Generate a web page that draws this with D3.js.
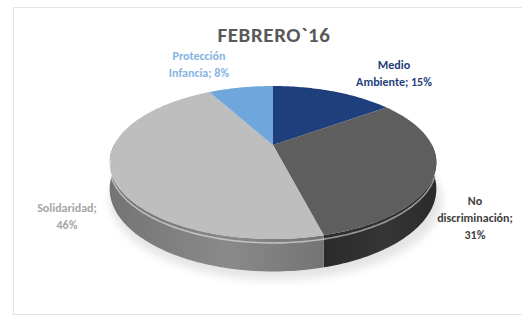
<!DOCTYPE html>
<html>
<head>
<meta charset="utf-8">
<script src="https://cdn.jsdelivr.net/npm/d3@7"></script>
<style>
  html, body { margin: 0; padding: 0; background: #fff; }
  svg { display: block; }
</style>
</head>
<body>
<div id="chart"></div>
<script>
// datos del gráfico
const categories = ['Medio Ambiente', 'No discriminación', 'Solidaridad', 'Protección Infancia']
const values = [15, 31, 46, 8]
const labelLines = [
  ['Medio', 'Ambiente; 15%'],
  ['No', 'discriminación;', '31%'],
  ['Solidaridad;', '46%'],
  ['Protección', 'Infancia; 8%']
]
const title = 'FEBRERO`16'

const width = 522
const height = 318

// colores de la cara superior y del lateral
const topColors = ['#1f3e7c', '#5e5e5e', '#bebebe', '#6fa7dd']
const sideColors = [['#142a57', '#1f3e7c'], ['#2a2a2a', '#363636'], ['#747474', '#8a8a8a'], ['#4a7db0', '#6fa7dd']]
const labelColors = ['#1f3e7c', '#404040', '#a6a6a6', '#86b3e2']
// posición del centro de cada etiqueta
const labelPos = [[394, 65], [475, 201], [67, 208], [199, 56]]

// perspectiva del pastel
const cx = 273
const cy = 145
const rx = 159
const ry = 72.5
const depth = 25
const persp = 0.229

const proj = (a, h) => {
  const d = 1 + persp * Math.cos(a)
  return [cx + rx * Math.sin(a) / d, cy - ry * Math.cos(a) / d + h * depth / d]
}

const svg = d3.select('#chart')
  .append('svg')
  .attr('width', width)
  .attr('height', height)

const defs = svg.append('defs')

// borde del área del gráfico
svg.append('rect')
  .attr('x', 13.5)
  .attr('y', 7.5)
  .attr('width', width)
  .attr('height', 307)
  .attr('fill', '#fff')
  .attr('stroke', '#e4e4e4')

// sombra
defs.append('filter')
  .attr('id', 'blur')
  .attr('x', '-20%').attr('y', '-40%').attr('width', '140%').attr('height', '180%')
  .append('feGaussianBlur')
  .attr('stdDeviation', 4)

svg.append('ellipse')
  .attr('cx', cx + 3)
  .attr('cy', 200)
  .attr('rx', 166)
  .attr('ry', 80)
  .attr('fill', '#000')
  .attr('opacity', 0.1)
  .attr('filter', 'url(#blur)')

const pie = d3.pie().sort(null).value((d) => d)
const arcs = pie(values)

const line = d3.line()
const sample = (a0, a1, h) => {
  const n = Math.max(2, Math.ceil(Math.abs(a1 - a0) / 0.02))
  return d3.range(n + 1).map((i) => proj(a0 + (a1 - a0) * i / n, h))
}

// gradientes de los laterales
sideColors.forEach((c, i) => {
  const g = defs.append('linearGradient')
    .attr('id', `side-${i}`)
    .attr('x1', '0%').attr('x2', '100%').attr('y1', '0%').attr('y2', '0%')
  g.append('stop').attr('offset', '0%').attr('stop-color', c[0])
  g.append('stop').attr('offset', '55%').attr('stop-color', c[1])
  g.append('stop').attr('offset', '100%').attr('stop-color', c[0])
})

// laterales (solo la mitad frontal)
const sideGroup = svg.append('g')
arcs.forEach((d, i) => {
  const a0 = Math.max(d.startAngle, Math.PI / 2)
  const a1 = Math.min(d.endAngle, Math.PI * 1.5)
  if (a1 <= a0) return
  const pts = sample(a0, a1, 0).concat(sample(a1, a0, 1))
  sideGroup.append('path')
    .attr('d', line(pts) + 'Z')
    .attr('fill', `url(#side-${i})`)
})

// caras superiores
const topGroup = svg.append('g')
arcs.forEach((d, i) => {
  const pts = [[cx, cy]].concat(sample(d.startAngle, d.endAngle, 0))
  topGroup.append('path')
    .attr('d', line(pts) + 'Z')
    .attr('fill', topColors[i])
})

// brillo del borde frontal
svg.append('path')
  .attr('d', line(sample(Math.PI * 0.62, Math.PI * 1.45, 0.12)))
  .attr('fill', 'none')
  .attr('stroke', '#fff')
  .attr('stroke-width', 1.6)
  .attr('opacity', 0.5)

// título
svg.append('text')
  .attr('x', 274)
  .attr('y', 42)
  .attr('text-anchor', 'middle')
  .attr('font-family', 'Carlito, Lato, sans-serif')
  .attr('font-weight', 'bold')
  .attr('font-size', 21)
  .attr('letter-spacing', 0.6)
  .attr('fill', '#595959')
  .text(title)

// etiquetas de datos
labelLines.forEach((lines, i) => {
  const t = svg.append('text')
    .attr('text-anchor', 'middle')
    .attr('font-family', 'Carlito, Lato, sans-serif')
    .attr('font-weight', 'bold')
    .attr('font-size', 12)
    .attr('fill', labelColors[i])
  lines.forEach((s, j) => {
    t.append('tspan')
      .attr('x', labelPos[i][0])
      .attr('y', labelPos[i][1] + 4 + j * 17)
      .text(s)
  })
})
</script>
</body>
</html>
